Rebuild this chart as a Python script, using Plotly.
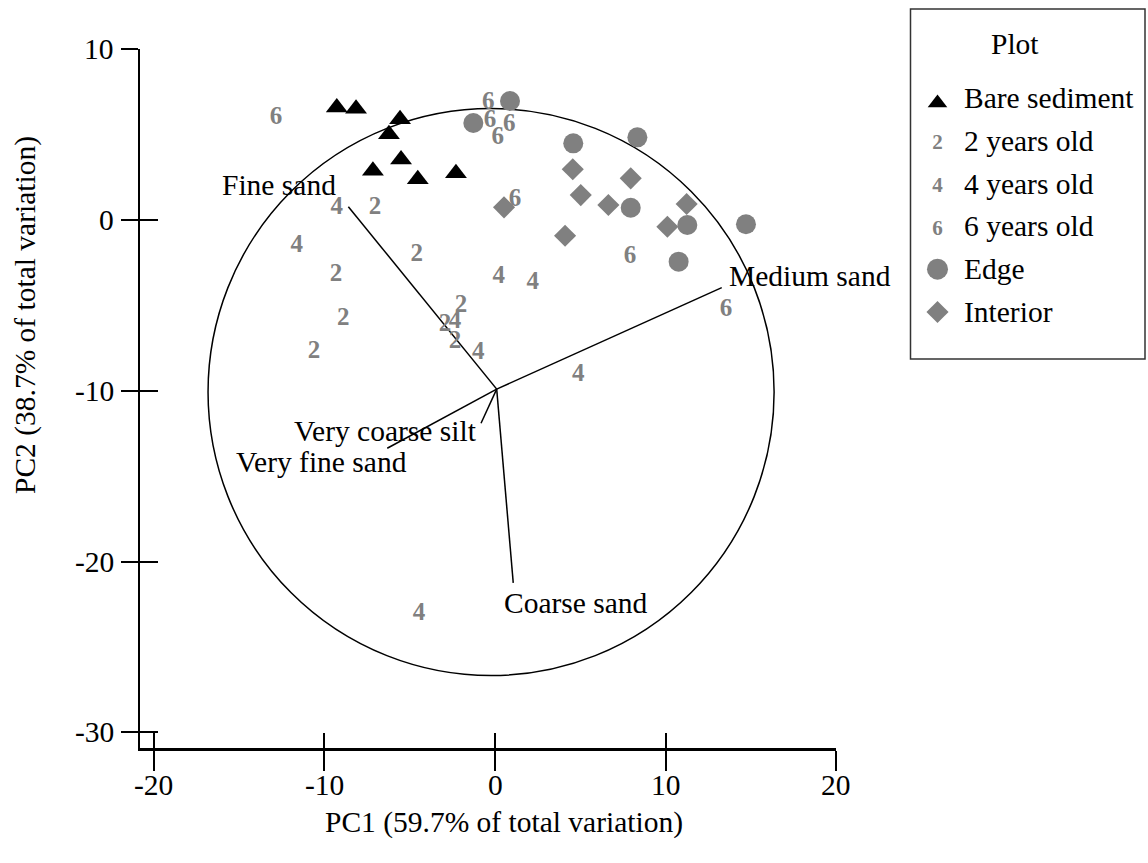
import plotly.graph_objects as go

W, H = 1148, 863

FONT = "Liberation Serif"
GRAY = "#808080"

# ---- site scores on PC1 / PC2 ----
bare_x = [-9.28, -8.15, -5.57, -6.22, -5.51, -7.16, -4.53, -2.29]
bare_y = [6.58, 6.52, 5.90, 5.02, 3.54, 2.89, 2.39, 2.74]

edge_x = [0.88, -1.27, 4.59, 8.35, 7.96, 11.28, 14.72, 10.77]
edge_y = [6.97, 5.68, 4.49, 4.84, 0.72, -0.29, -0.25, -2.44]

interior_x = [4.56, 7.96, 5.03, 6.65, 11.24, 10.11, 4.11, 0.53]
interior_y = [2.97, 2.44, 1.46, 0.88, 0.94, -0.39, -0.92, 0.74]

age2_x = [-7.04, -4.59, -9.33, -8.90, -10.62, -1.99, -2.93, -2.35]
age2_y = [0.69, -2.05, -3.22, -5.81, -7.71, -5.04, -6.15, -7.13]

age4_x = [-9.28, -11.63, 0.22, 2.21, -2.35, -0.98, 4.89, -4.46]
age4_y = [0.69, -1.52, -3.32, -3.67, -5.95, -7.77, -9.07, -23.07]

age6_x = [-12.84, -0.39, -0.29, 0.84, 0.16, 1.17, 7.92, 13.55]
age6_y = [6.01, 6.87, 5.81, 5.56, 4.84, 1.17, -2.15, -5.23]

# ---- grain-size loadings (vector tips) ----
variables = ["Fine sand", "Medium sand", "Coarse sand", "Very coarse silt", "Very fine sand"]
load_x = [-8.60, 13.30, 1.07, -0.82, -6.32]
load_y = [0.78, -3.96, -21.24, -11.90, -13.36]
vec_origin = (0.1, -9.9)

# equilibrium circle
circle_center = (-0.23, -10.07)
circle_radius = 16.6

x_ticks = [-20, -10, 0, 10, 20]
x_tick_text = ["-20", "-10", "0", "10", "20"]
y_ticks = [-30, -20, -10, 0, 10]
y_tick_text = ["-30", "-20", "-10", "0", "10"]

legend_title = "Plot"
legend_labels = ["Bare sediment", "2 years old", "4 years old", "6 years old", "Edge", "Interior"]


def px(x):
    """pixel column -> paper fraction"""
    return x / W


def py(y):
    """pixel row (from the top) -> paper fraction"""
    return 1 - y / H


FS = 29.5
text_font = dict(family=FONT, size=FS, color="black")

# label placement relative to vector tips (pixels)
label_offsets = {
    "Fine sand": dict(xanchor="right", xshift=-10, yshift=22),
    "Medium sand": dict(xanchor="left", xshift=5, yshift=12),
    "Coarse sand": dict(xanchor="left", xshift=-11, yshift=-20),
    "Very coarse silt": dict(xanchor="right", xshift=-2, yshift=-8),
    "Very fine sand": dict(xanchor="right", xshift=22, yshift=-14),
}

fig = go.Figure()

# vectors from the origin to each loading
vx, vy = [], []
for lx, ly in zip(load_x, load_y):
    vx += [vec_origin[0], lx, None]
    vy += [vec_origin[1], ly, None]
fig.add_trace(go.Scatter(x=vx, y=vy, mode="lines",
                         line=dict(color="black", width=1.5), hoverinfo="skip"))

digit_font = dict(family=FONT, size=25, color=GRAY, weight="bold")
for xs, ys, lab in [(age2_x, age2_y, "2"), (age4_x, age4_y, "4"), (age6_x, age6_y, "6")]:
    fig.add_trace(go.Scatter(x=xs, y=ys, mode="text", text=["<b>%s</b>" % lab] * len(xs),
                             textposition="middle center", textfont=digit_font))

fig.add_trace(go.Scatter(x=edge_x, y=edge_y, mode="markers",
                         marker=dict(symbol="circle", size=20, color=GRAY, line=dict(width=0))))
fig.add_trace(go.Scatter(x=interior_x, y=interior_y, mode="markers",
                         marker=dict(symbol="diamond", size=17, color=GRAY, line=dict(width=0))))
fig.add_trace(go.Scatter(x=bare_x, y=bare_y, mode="markers",
                         marker=dict(symbol="triangle-up", size=19, color="black",
                                     line=dict(width=0))))

# empty traces that register the overlay axes carrying the inner half of the ticks
fig.add_trace(go.Scatter(x=[], y=[], xaxis="x2", yaxis="y"))
fig.add_trace(go.Scatter(x=[], y=[], xaxis="x", yaxis="y2"))

# ---- legend key drawn on its own pixel-scaled axes ----
LX0, LX1, LY0, LY1 = 910.5, 1145, 9, 359
row0, step = 98, 42.8
sym_x = 937.5
rows = [row0 + i * step for i in range(len(legend_labels))]
key_font = dict(family=FONT, size=21, color=GRAY, weight="bold")
fig.add_trace(go.Scatter(x=[sym_x], y=[rows[0] + 5], mode="markers", xaxis="x3", yaxis="y3",
                         marker=dict(symbol="triangle-up", size=17, color="black")))
fig.add_trace(go.Scatter(x=[sym_x] * 3, y=[r + 3 for r in rows[1:4]], mode="text",
                         xaxis="x3", yaxis="y3",
                         text=["<b>2</b>", "<b>4</b>", "<b>6</b>"], textfont=key_font))
fig.add_trace(go.Scatter(x=[sym_x], y=[rows[4]], mode="markers", xaxis="x3", yaxis="y3",
                         marker=dict(symbol="circle", size=21, color=GRAY)))
fig.add_trace(go.Scatter(x=[sym_x], y=[rows[5]], mode="markers", xaxis="x3", yaxis="y3",
                         marker=dict(symbol="diamond", size=17, color=GRAY)))

annotations = []
for name, lx, ly in zip(variables, load_x, load_y):
    o = label_offsets[name]
    annotations.append(dict(x=lx, y=ly, xref="x", yref="y", text=name, showarrow=False,
                            xanchor=o["xanchor"], yanchor="middle", xshift=o["xshift"],
                            yshift=o["yshift"], font=text_font))

# tick labels
for v, t in zip(x_ticks, x_tick_text):
    annotations.append(dict(x=v, y=py(785), xref="x", yref="paper", text=t, showarrow=False,
                            xanchor="center", yanchor="middle", font=text_font))
for v, t in zip(y_ticks, y_tick_text):
    annotations.append(dict(x=px(116), y=v, xref="paper", yref="y", text=t, showarrow=False,
                            xanchor="right", yanchor="middle", font=text_font))

annotations.append(dict(x=px(504), y=py(822), xref="paper", yref="paper",
                        text="PC1 (59.7% of total variation)", showarrow=False,
                        xanchor="center", yanchor="middle", font=text_font))
annotations.append(dict(x=px(26), y=py(315), xref="paper", yref="paper",
                        text="PC2 (38.7% of total variation)", showarrow=False, textangle=-90,
                        xanchor="center", yanchor="middle", font=text_font))
annotations.append(dict(x=px(1015), y=py(44), xref="paper", yref="paper",
                        text=legend_title, showarrow=False, xanchor="center", yanchor="middle",
                        font=text_font))
for lab, ry in zip(legend_labels, rows):
    annotations.append(dict(x=px(962), y=py(ry), xref="paper", yref="paper",
                            text=lab, showarrow=False, xanchor="left", yanchor="middle",
                            font=text_font))

shapes = [
    dict(type="circle", xref="x", yref="y", layer="below",
         x0=circle_center[0] - circle_radius, x1=circle_center[0] + circle_radius,
         y0=circle_center[1] - circle_radius, y1=circle_center[1] + circle_radius,
         line=dict(color="black", width=1.5)),
    dict(type="rect", xref="paper", yref="paper",
         x0=px(LX0), x1=px(LX1), y0=py(LY1), y1=py(LY0),
         line=dict(color="#333333", width=1.5)),
]

xdom = [px(139.5), px(836)]
ydom = [py(748), py(49.2)]
xr = [-20.85, 20]
yr = [-30.91, 10]

fig.update_layout(
    width=W, height=H, margin=dict(l=0, r=0, t=0, b=0, pad=0),
    paper_bgcolor="white", plot_bgcolor="rgba(0,0,0,0)", showlegend=False,
    xaxis=dict(domain=xdom, range=xr, tickvals=x_ticks, showticklabels=False,
               ticks="outside", ticklen=20, automargin=False,
               tickwidth=1.5, tickcolor="black", showline=True, linewidth=2.5,
               linecolor="black", showgrid=False, zeroline=False, anchor="y"),
    yaxis=dict(domain=ydom, range=yr, tickvals=y_ticks, showticklabels=False,
               ticks="outside", ticklen=17, automargin=False,
               tickwidth=1.5, tickcolor="black", showline=True, linewidth=1.5,
               linecolor="black", showgrid=False, zeroline=False, anchor="x"),
    xaxis2=dict(domain=xdom, range=xr, overlaying="x", anchor="y", side="bottom",
                tickvals=x_ticks, ticks="inside", ticklen=15, tickwidth=1.5,
                tickcolor="black", showticklabels=False, showline=False, showgrid=False,
                zeroline=False, automargin=False),
    yaxis2=dict(domain=ydom, range=yr, overlaying="y", anchor="x", side="left",
                tickvals=y_ticks, ticks="inside", ticklen=18, tickwidth=1.5,
                tickcolor="black", showticklabels=False, showline=False, showgrid=False,
                zeroline=False, automargin=False),
    xaxis3=dict(domain=[px(LX0), px(LX1)], range=[LX0, LX1], anchor="y3", visible=False,
                automargin=False),
    yaxis3=dict(domain=[py(LY1), py(LY0)], range=[LY1, LY0], anchor="x3", visible=False,
                automargin=False),
    annotations=annotations, shapes=shapes,
)

fig.write_html("out.html")
